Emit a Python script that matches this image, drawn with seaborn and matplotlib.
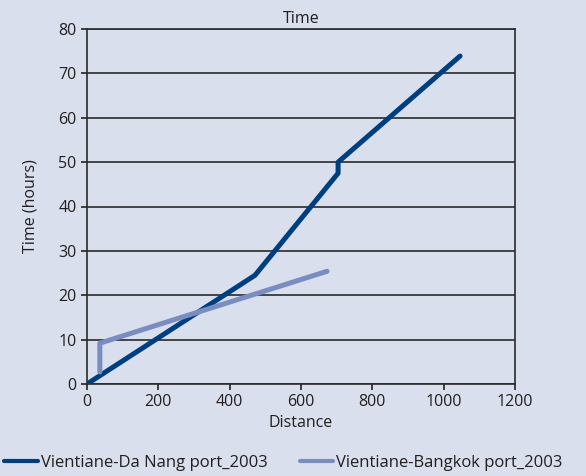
import numpy as np
import pandas as pd
import matplotlib
matplotlib.use("Agg")
import matplotlib.pyplot as plt
import seaborn as sns
from matplotlib.lines import Line2D

# Data
danang_dist = [0, 471, 704, 704, 1046]
danang_time = [0, 24.5, 47.5, 50, 73.9]
bangkok_dist = [36, 36, 673]
bangkok_time = [2.7, 9.2, 25.4]
x_ticks = [0, 200, 400, 600, 800, 1000, 1200]
y_ticks = [0, 10, 20, 30, 40, 50, 60, 70, 80]

bg = "#d9dfec"
dark = "#003f7f"
light = "#7a8dc0"

sns.set_theme(style="white")
plt.rcParams['font.family'] = ['Open Sans', 'DejaVu Sans']

df = pd.concat([
    pd.DataFrame({"Distance": danang_dist, "Time": danang_time,
                  "Route": "Vientiane-Da Nang port_2003"}),
    pd.DataFrame({"Distance": bangkok_dist, "Time": bangkok_time,
                  "Route": "Vientiane-Bangkok port_2003"}),
])

fig = plt.figure(figsize=(5.86, 4.76), dpi=100, facecolor=bg)
ax = fig.add_axes([87 / 586, 1 - 384 / 476, 428 / 586, 355 / 476])
ax.set_facecolor(bg)

sns.lineplot(data=df, x="Distance", y="Time", hue="Route", sort=False,
             palette={"Vientiane-Da Nang port_2003": dark,
                      "Vientiane-Bangkok port_2003": light},
             linewidth=3.6, estimator=None, ax=ax, legend=False, zorder=3)

ax.set_xlim(0, 1200)
ax.set_ylim(0, 80)
ax.set_xticks(x_ticks)
ax.set_yticks(y_ticks)
ax.grid(axis="y", color="#2a2a2a", linewidth=1.2)
ax.grid(axis="x", visible=False)
for s in ax.spines.values():
    s.set_color("#2a2a2a")
    s.set_linewidth(1.2)
ax.tick_params(axis="both", which="both", length=4, color="#2a2a2a",
               labelsize=11.5, labelcolor="#231f20", direction="out",
               bottom=True, left=True)
ax.set_title("Time", fontsize=11.5, color="#231f20", pad=4)
ax.set_xlabel("Distance", fontsize=11.5, color="#231f20", labelpad=3)
ax.set_ylabel("Time (hours)", fontsize=11.5, color="#231f20", labelpad=14)

handles = [Line2D([0], [0], color=dark, lw=3),
           Line2D([0], [0], color=light, lw=3)]
fig.legend(handles, ["Vientiane-Da Nang port_2003", "Vientiane-Bangkok port_2003"],
           loc="lower left", bbox_to_anchor=(-0.018, -0.02), ncol=2, frameon=False,
           fontsize=12, handlelength=2.0, handletextpad=0.2, columnspacing=1.9,
           labelcolor="#231f20")

fig.savefig("out.png", dpi=100, facecolor=bg)
